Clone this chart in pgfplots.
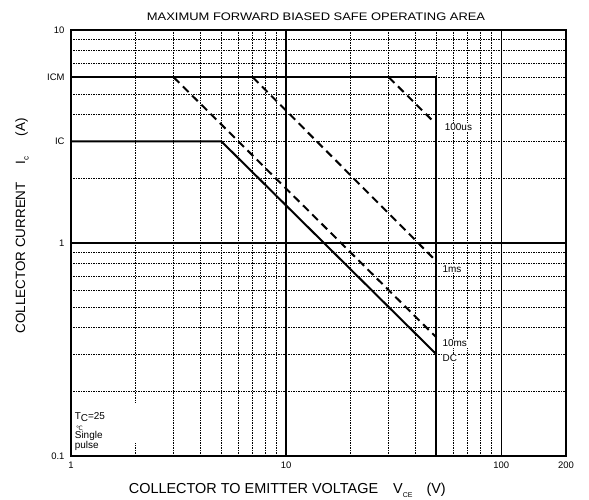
\documentclass[border=0pt]{standalone}
\usepackage{pgfplots}
\pgfplotsset{compat=1.18}
\usepackage{fontspec}
\setmainfont{Liberation Sans}
\newfontfamily\widefont[FakeStretch=1.18]{Liberation Sans}
\newfontfamily\dejavu{DejaVu Sans}
\begin{document}
\begin{tikzpicture}
\begin{axis}[
  at={(0,0)}, anchor=south west,
  xmode=log, ymode=log,
  scale only axis, width=495bp, height=426bp,
  xmin=1, xmax=200, ymin=0.1, ymax=10,
  xtick={1,10,100,200}, xticklabels={1,10,100,200},
  ytick={0.1,1,10}, yticklabels={0.1,1,10},
  extra y ticks={3,6}, extra y tick labels={IC,ICM},
  extra y tick style={grid=none},
  minor xtick={2,3,4,5,6,7,8,9,20,30,40,50,60,70,80,90},
  minor ytick={0.2,0.3,0.4,0.5,0.6,0.7,0.8,0.9,2,3,4,5,6,7,8,9},
  grid=both,
  major grid style={black, line width=1.3bp},
  minor grid style={black, line width=1bp, dash pattern=on 1.5bp off 1bp},
  major tick length=0pt, minor tick length=0pt,
  axis line style={line width=1.5bp},
  tick label style={font=\fontsize{9.5}{11}\selectfont},
  xticklabel style={yshift=-2bp},
  yticklabel style={xshift=-3bp},
  clip=false,
]
\addplot[line width=2bp] coordinates {(1,6) (50,6) (50,0.1)};
\addplot[line width=2bp] coordinates {(1,3) (5,3) (50,0.3)};
\addplot[line width=2bp, dash pattern=on 8bp off 5bp] coordinates {(3,6) (50,0.36)};
\addplot[line width=2bp, dash pattern=on 8bp off 5bp] coordinates {(7,6) (50,0.82)};
\addplot[line width=2bp, dash pattern=on 8bp off 5bp] coordinates {(30,6) (48,3.75)};

\node[fill=white, inner sep=1bp, anchor=west, font=\fontsize{10}{12}\selectfont] at (axis cs:54,3.5) {100us};
\node[fill=white, inner sep=1bp, anchor=west, font=\fontsize{10}{12}\selectfont] at (axis cs:52.7,0.755) {1ms};
\node[fill=white, inner sep=1bp, anchor=west, font=\fontsize{10}{12}\selectfont] at (axis cs:52.7,0.339) {10ms};
\node[fill=white, inner sep=1bp, anchor=west, font=\fontsize{10}{12}\selectfont] at (axis cs:52.7,0.288) {DC};

\node[fill=white, inner sep=0pt, anchor=north west, minimum width=68bp, minimum height=40bp] at (axis cs:1.011,0.1775) {};
\node[anchor=base west, inner sep=0pt, font=\fontsize{10}{12}\selectfont] at (axis cs:1.04,0.149) {T\raisebox{-2.5bp}{C}=25};
\node[anchor=base west, inner sep=0pt, font=\fontsize{10}{12}\selectfont] at (axis cs:1.04,0.1205) {Single};
\node[anchor=base west, inner sep=0pt, font=\fontsize{10}{12}\selectfont] at (axis cs:1.04,0.1085) {pulse};
\node[anchor=base west, inner sep=0pt, font=\dejavu\fontsize{6}{6}\selectfont] at (axis cs:1.055,0.132) {℃};

\node[font=\widefont\fontsize{11}{13}\selectfont] at (axis description cs:0.495,1.0305) {MAXIMUM FORWARD BIASED SAFE OPERATING AREA};
\node[font=\fontsize{14.5}{16}\selectfont] at (axis description cs:0.437,-0.08) {COLLECTOR TO EMITTER VOLTAGE\hspace{15bp}V\raisebox{-4.5bp}{\fontsize{7}{7}\selectfont CE}\hspace{14bp}(V)};
\node[rotate=90, font=\fontsize{13.5}{15}\selectfont] at (axis description cs:-0.099,0.54) {COLLECTOR CURRENT\hspace{18bp}I\raisebox{-3.5bp}{\fontsize{8}{8}\selectfont c}\hspace{20bp}(A)};
\end{axis}
\pgfresetboundingbox
\path[use as bounding box] (-71bp,-44bp) rectangle (518bp,456bp);
\end{tikzpicture}
\end{document}
